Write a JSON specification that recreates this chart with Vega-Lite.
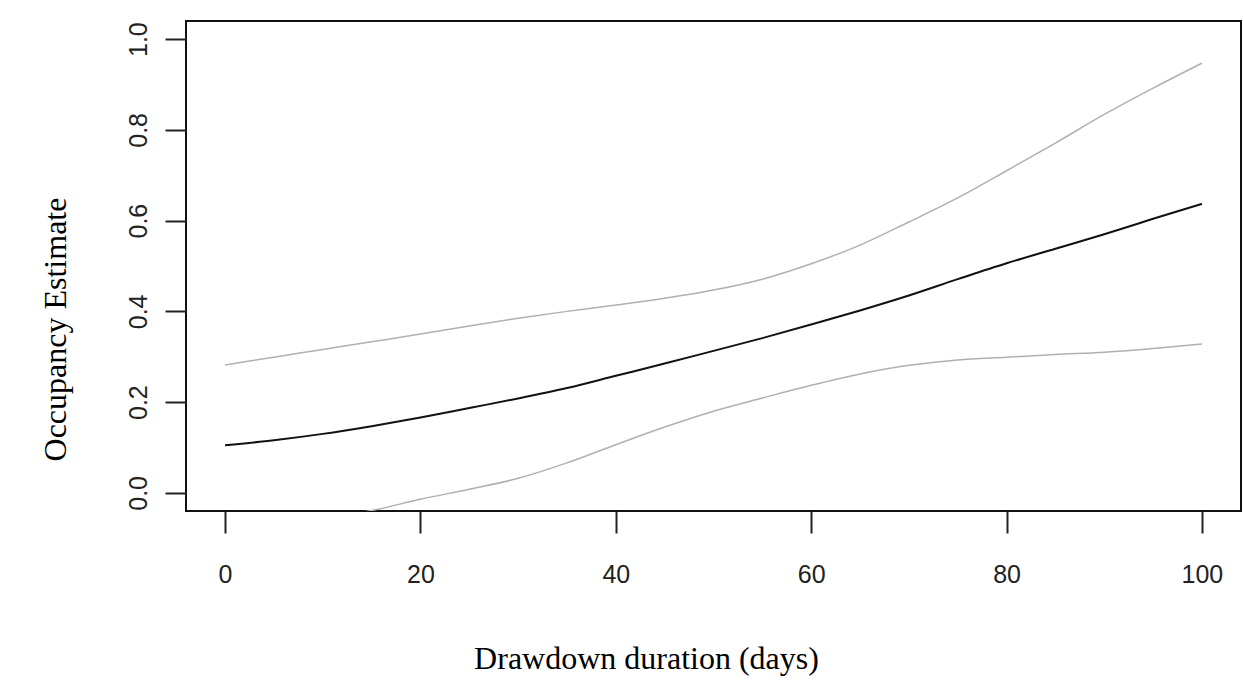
{
  "$schema": "https://vega.github.io/schema/vega-lite/v6.json",
  "autosize": "none",
  "padding": {"left": 186, "top": 21, "right": 2, "bottom": 180},
  "width": 1055,
  "height": 490,
  "background": "white",
  "config": {
    "view": {"stroke": "#111", "strokeWidth": 2},
    "axis": {"grid": false, "domain": false}
  },
  "data": {
    "values": [
      {"days": 0, "est": 0.105, "upper": 0.282, "lower": -0.072},
      {"days": 5, "est": 0.116, "upper": 0.299, "lower": -0.067},
      {"days": 10, "est": 0.130, "upper": 0.316, "lower": -0.056},
      {"days": 15, "est": 0.147, "upper": 0.333, "lower": -0.039},
      {"days": 20, "est": 0.166, "upper": 0.350, "lower": -0.014},
      {"days": 25, "est": 0.187, "upper": 0.368, "lower": 0.008},
      {"days": 30, "est": 0.208, "upper": 0.385, "lower": 0.032},
      {"days": 35, "est": 0.231, "upper": 0.400, "lower": 0.066},
      {"days": 40, "est": 0.258, "upper": 0.414, "lower": 0.106},
      {"days": 45, "est": 0.285, "upper": 0.429, "lower": 0.145},
      {"days": 50, "est": 0.313, "upper": 0.447, "lower": 0.180},
      {"days": 55, "est": 0.341, "upper": 0.471, "lower": 0.209},
      {"days": 60, "est": 0.371, "upper": 0.505, "lower": 0.237},
      {"days": 65, "est": 0.402, "upper": 0.546, "lower": 0.262},
      {"days": 70, "est": 0.435, "upper": 0.597, "lower": 0.281},
      {"days": 75, "est": 0.471, "upper": 0.650, "lower": 0.293},
      {"days": 80, "est": 0.506, "upper": 0.710, "lower": 0.299},
      {"days": 85, "est": 0.538, "upper": 0.771, "lower": 0.305},
      {"days": 90, "est": 0.570, "upper": 0.834, "lower": 0.310},
      {"days": 95, "est": 0.604, "upper": 0.892, "lower": 0.318},
      {"days": 100, "est": 0.637, "upper": 0.947, "lower": 0.328}
    ]
  },
  "encoding": {
    "x": {
      "field": "days",
      "type": "quantitative",
      "scale": {"domain": [-4, 104], "nice": false, "zero": false},
      "axis": {
        "values": [0, 20, 40, 60, 80, 100],
        "tickSize": 22,
        "tickWidth": 2,
        "tickColor": "#222",
        "labelFont": "Liberation Sans",
        "labelFontSize": 25,
        "labelColor": "#222",
        "labelBaseline": "alphabetic",
        "labelPadding": 49,
        "title": "Drawdown duration (days)",
        "titleFont": "Liberation Serif",
        "titleFontSize": 32,
        "titleFontWeight": "normal",
        "titleColor": "#000",
        "titleAnchor": "start",
        "titleAlign": "center",
        "titleBaseline": "alphabetic",
        "titleX": 460,
        "titleY": 157
      }
    }
  },
  "layer": [
    {
      "mark": {"type": "line", "color": "#b0b0b0", "strokeWidth": 1.5, "interpolate": "monotone", "clip": true},
      "encoding": {
        "y": {
          "field": "upper",
          "type": "quantitative",
          "scale": {"domain": [-0.04, 1.04], "nice": false, "zero": false},
          "axis": {
            "values": [0, 0.2, 0.4, 0.6, 0.8, 1.0],
            "format": ".1f",
            "tickSize": 21,
            "tickWidth": 2,
            "tickColor": "#222",
            "labelFont": "Liberation Sans",
            "labelFontSize": 25,
            "labelColor": "#222",
            "labelAngle": -90,
            "labelAlign": "center",
            "labelBaseline": "alphabetic",
            "labelPadding": 19,
            "title": "Occupancy Estimate",
            "titleFont": "Liberation Serif",
            "titleFontSize": 32,
            "titleFontWeight": "normal",
            "titleColor": "#000",
            "titleAngle": -90,
            "titleAlign": "center",
            "titleBaseline": "alphabetic",
            "titleX": -121,
            "titleY": 308
          }
        }
      }
    },
    {
      "mark": {"type": "line", "color": "#b0b0b0", "strokeWidth": 1.5, "interpolate": "monotone", "clip": true},
      "encoding": {"y": {"field": "lower", "type": "quantitative"}}
    },
    {
      "mark": {"type": "line", "color": "#111", "strokeWidth": 2, "interpolate": "monotone", "clip": true},
      "encoding": {"y": {"field": "est", "type": "quantitative"}}
    }
  ]
}
